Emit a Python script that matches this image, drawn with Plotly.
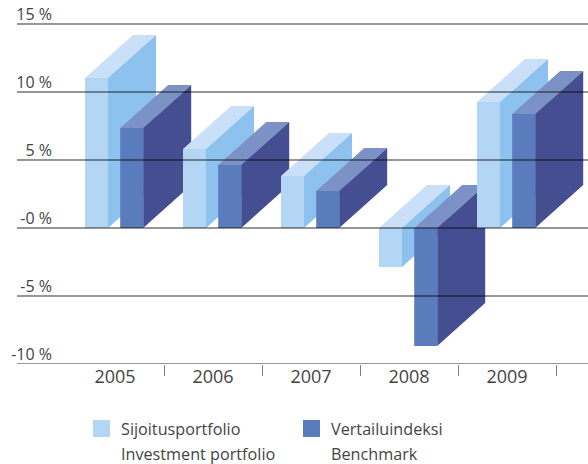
import plotly.graph_objects as go

years = ["2005", "2006", "2007", "2008", "2009"]
portfolio = [11.03, 5.8, 3.82, -2.87, 9.26]
benchmark = [7.35, 4.63, 2.72, -8.68, 8.38]
y_ticks = [15, 10, 5, 0, -5, -10]
y_labels = ["15 %", "10 %", "5 %", "-0 %", "-5 %", "-10 %"]
legend_names = [["Sijoitusportfolio", "Investment portfolio"], ["Vertailuindeksi", "Benchmark"]]

W, H = 588, 464
LEFT, BOTTOM = 52, 100
CAT_W = 98.0
PX_PER_UNIT = 13.6
FIRST_CENTER = 115
BAR_W = 23 / CAT_W
DEPTH_X = 48 / CAT_W
DEPTH_Y = 43 / PX_PER_UNIT
OFFSETS = [-30 / CAT_W, 5.2 / CAT_W]

LIGHT = dict(front="#B4D6F5", side="#8DC2EF", top="#C9E0F8")
DARK = dict(front="#5B7CBC", side="#444E90", top="#7C92C7")
LINE = "rgba(0,0,0,0.55)"
TEXT = "#444444"
FONT = "Open Sans"

plot_w = W - LEFT
plot_h = H - BOTTOM


def paper_x(px):
    return (px - LEFT) / plot_w


def paper_y(py):
    return (plot_h - py) / plot_h


fig = go.Figure()


def face(xs, ys, color):
    fig.add_trace(go.Scatter(x=xs, y=ys, mode="lines", fill="toself", fillcolor=color,
                             line=dict(width=0, color=color), hoverinfo="skip", showlegend=False))


def bar3d(x0, value, colors):
    x1 = x0 + BAR_W
    top, bottom = max(value, 0), min(value, 0)
    face([x0, x0 + DEPTH_X, x1 + DEPTH_X, x1, x0],
         [top, top + DEPTH_Y, top + DEPTH_Y, top, top], colors["top"])
    face([x1, x1 + DEPTH_X, x1 + DEPTH_X, x1, x1],
         [top, top + DEPTH_Y, bottom + DEPTH_Y, bottom, top], colors["side"])
    face([x0, x1, x1, x0, x0], [top, top, bottom, bottom, top], colors["front"])


for i in range(len(years)):
    bar3d(i + OFFSETS[0], portfolio[i], LIGHT)
    bar3d(i + OFFSETS[1], benchmark[i], DARK)

shapes = [dict(type="line", xref="paper", yref="y", x0=paper_x(17), x1=1, y0=v, y1=v,
               line=dict(color=LINE, width=1.5), layer="above") for v in y_ticks]

annotations = []
for col, (swatch_x, text_x, color) in enumerate([(93, 120, LIGHT["front"]), (303, 330, DARK["front"])]):
    shapes.append(dict(type="rect", xref="paper", yref="paper",
                       x0=paper_x(swatch_x), x1=paper_x(swatch_x + 17),
                       y0=paper_y(437), y1=paper_y(420), fillcolor=color, line=dict(width=0)))
    for row, name in enumerate(legend_names[col]):
        annotations.append(dict(text=name, xref="paper", yref="paper", x=paper_x(text_x),
                                y=paper_y(429 + row * 25), xanchor="left", yanchor="middle",
                                showarrow=False, borderpad=0,
                                font=dict(family=FONT, size=16.2, color=TEXT)))

x_min = (LEFT - FIRST_CENTER) / CAT_W
x_max = (W - FIRST_CENTER) / CAT_W
boundaries = [i + 0.5 for i in range(len(years))]

fig.update_layout(
    width=W, height=H, autosize=False,
    margin=dict(l=LEFT, r=0, t=0, b=BOTTOM),
    paper_bgcolor="white", plot_bgcolor="white",
    showlegend=False, shapes=shapes, annotations=annotations,
    xaxis=dict(range=[x_min, x_max], tickmode="array", tickvals=list(range(len(years))),
               ticktext=years, ticks="", tickcolor="rgba(0,0,0,0)",
               tickfont=dict(family=FONT, size=18, color=TEXT), showgrid=False, zeroline=False,
               minor=dict(tickmode="array", tickvals=boundaries, ticks="outside", ticklen=11,
                          tickcolor="#808080", tickwidth=1, showgrid=False)),
    yaxis=dict(range=[-10, plot_h / PX_PER_UNIT - 10], tickmode="array", tickvals=y_ticks,
               ticktext=y_labels, showgrid=False, zeroline=False, showline=False, ticks="",
               ticklabelshift=-10, ticklabelstandoff=-1,
               tickfont=dict(family=FONT, size=16, color=TEXT)),
)

fig.write_html("out.html", config=dict(displayModeBar=False),
               post_script="document.body.style.margin='0';")
